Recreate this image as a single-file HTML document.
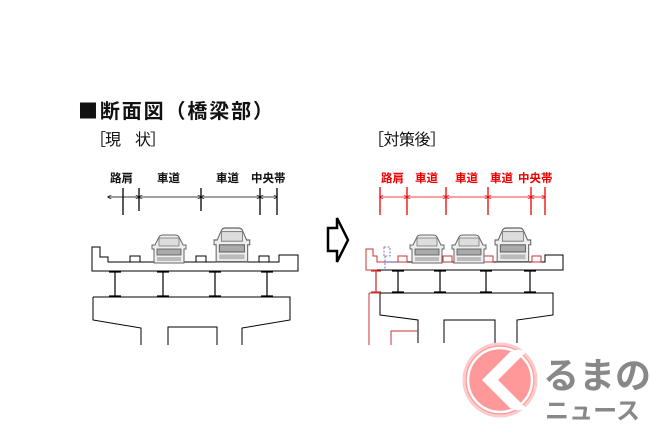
<!DOCTYPE html>
<html><head><meta charset="utf-8"><style>
html,body{margin:0;padding:0;background:#fff;width:650px;height:433px;overflow:hidden}
svg{display:block}
text{font-family:"Liberation Sans","Noto Sans CJK JP",sans-serif}
.cjk{font-family:"Noto Sans CJK JP",sans-serif}
</style></head><body>
<svg width="650" height="433" viewBox="0 0 650 433" xmlns="http://www.w3.org/2000/svg">
<defs>
<g id="car">
<path d="M4 10 L8 2 Q9 0 12 0 L24 0 Q27 0 28 2 L32 10 L35 10 L35 14 L33 14 L33 28 L3 28 L3 14 L1 14 L1 10 Z" fill="#eee" stroke="#666" stroke-width="1"/>
<rect x="8" y="3" width="20" height="8" fill="#ddd" stroke="#777" stroke-width="0.8"/>
<rect x="6" y="14" width="24" height="6" fill="#aaa" stroke="#555" stroke-width="0.8"/>
<rect x="6" y="22" width="24" height="4" fill="#bbb"/>
</g>
<marker id="ak" viewBox="0 0 6 6" refX="5" refY="3" markerWidth="5" markerHeight="5" orient="auto-start-reverse"><path d="M0 0L6 3L0 6" fill="none" stroke="#000"/></marker>
<marker id="ar" viewBox="0 0 6 6" refX="5" refY="3" markerWidth="5" markerHeight="5" orient="auto-start-reverse"><path d="M0 0L6 3L0 6" fill="none" stroke="#e00"/></marker>
</defs>

<text class="cjk" x="78" y="118" font-size="20" font-weight="bold" fill="#111" textLength="195">■断面図（橋梁部）</text>
<text class="cjk" x="90" y="145" font-size="16" fill="#111" textLength="76">［現　状］</text>
<text class="cjk" x="368" y="145" font-size="16" fill="#111" textLength="78">［対策後］</text>

<!-- left dims -->
<g font-size="11.5" font-weight="bold" fill="#111">
<text x="110" y="182">路肩</text><text x="157" y="182">車道</text><text x="216" y="182">車道</text><text x="251" y="182">中央帯</text>
</g>
<g stroke="#000" stroke-width="1.3">
<line x1="123" y1="188" x2="123" y2="215"/><line x1="139" y1="188" x2="139" y2="211"/><line x1="201" y1="188" x2="201" y2="211"/><line x1="260" y1="188" x2="260" y2="215"/><line x1="277" y1="188" x2="277" y2="215"/>
</g>
<g stroke="#000" stroke-width="0.8" fill="none">
<line x1="108" y1="197" x2="123" y2="197" marker-start="url(#ak)"/>
<line x1="123" y1="197" x2="139" y2="197" marker-end="url(#ak)"/>
<line x1="139" y1="197" x2="201" y2="197" marker-start="url(#ak)" marker-end="url(#ak)"/>
<line x1="201" y1="197" x2="260" y2="197" marker-start="url(#ak)" marker-end="url(#ak)"/>
<line x1="260" y1="197" x2="277" y2="197" marker-start="url(#ak)" marker-end="url(#ak)"/>
</g>

<!-- left bridge -->
<g stroke="#000" stroke-width="1" fill="none">
<path d="M92 247 L100 247 L100 257 L108 257 L108 262 L279 262 L279 255 L298 255 L298 271 L92 271 Z"/>
<rect x="130" y="256" width="10" height="6"/><rect x="196" y="256" width="10" height="6"/><rect x="259" y="256" width="10" height="6"/>
<path d="M93 297 L290 297 L290 320 L242 328 L242 345 M93 297 L93 320 L141 328 L141 345 M168 345 L168 327 L217 327 L217 345"/>
</g>
<g stroke="#000" stroke-width="1.2">
<path d="M109 272h12M115 272v24M109 296h12 M157 272h12M163 272v24M157 296h12 M209 272h12M215 272v24M209 296h12 M261 272h12M267 272v24M261 296h12"/>
</g>
<use href="#car" x="151" y="235"/>
<use href="#car" transform="translate(213 228) scale(1.05 1.2)"/>

<!-- arrow -->
<path d="M328 228 L337 228 L337 218 L348 240 L337 262 L337 251 L328 251 Z" fill="#fff" stroke="#000" stroke-width="2.5"/>

<!-- right dims -->
<g font-size="11.5" font-weight="bold" fill="#e00">
<text x="381" y="182">路肩</text><text x="415" y="182">車道</text><text x="455" y="182">車道</text><text x="490" y="182">車道</text><text x="518" y="182">中央帯</text>
</g>
<g stroke="#e00" stroke-width="1.3">
<line x1="380" y1="187" x2="380" y2="215"/><line x1="407" y1="187" x2="407" y2="215"/><line x1="446" y1="187" x2="446" y2="215"/><line x1="488" y1="187" x2="488" y2="215"/><line x1="531" y1="187" x2="531" y2="215"/><line x1="545" y1="187" x2="545" y2="215"/>
</g>
<g stroke="#e00" stroke-width="0.8" fill="none">
<line x1="380" y1="197" x2="407" y2="197" marker-start="url(#ar)" marker-end="url(#ar)"/>
<line x1="407" y1="197" x2="446" y2="197" marker-start="url(#ar)" marker-end="url(#ar)"/>
<line x1="446" y1="197" x2="488" y2="197" marker-start="url(#ar)" marker-end="url(#ar)"/>
<line x1="488" y1="197" x2="531" y2="197" marker-start="url(#ar)" marker-end="url(#ar)"/>
<line x1="531" y1="197" x2="545" y2="197" marker-start="url(#ar)" marker-end="url(#ar)"/>
</g>

<!-- right bridge -->
<g stroke="#000" stroke-width="1" fill="none">
<path d="M377 262 L545 262 L545 255 L563 255 L563 270 L377 270"/>
<path d="M380 293 L553 293 L553 315 L517 320 L517 343 M380 293 L380 315 L418 320 L418 343 M444 343 L444 320 L495 320 L495 343"/>
</g>
<g stroke="#c33" stroke-width="1" fill="none">
<path d="M377 270 L366 270 L366 249 L373 249 L373 256 L377 256 L377 262 L392 262"/>
<rect x="398" y="256" width="9" height="6"/><rect x="443" y="256" width="9" height="6"/><rect x="484" y="256" width="9" height="6"/><rect x="532" y="256" width="9" height="6"/>
<path d="M369 293 L369 345 M369 293 L380 293 M391 345 L391 331 L418 331"/>
<path d="M371 271h10M376 271v22M371 292h10" stroke-width="1.3"/>
</g>
<path d="M384 247 L390 247 L390 256 L384 256 Z M385 256 L385 270" stroke="#55a" stroke-width="0.8" stroke-dasharray="2 1.5" fill="none"/>
<path d="M385 262 L398 262" stroke="#55a" stroke-width="1" fill="none"/>
<g stroke="#000" stroke-width="1.2">
<path d="M392 271h12M398 271v22M392 292h12 M434 271h12M440 271v22M434 292h12 M480 271h12M486 271v22M480 292h12 M524 271h12M530 271v22M524 292h12"/>
</g>
<use href="#car" x="409" y="235"/>
<use href="#car" x="451" y="235"/>
<use href="#car" transform="translate(494 228) scale(1.05 1.2)"/>

<!-- logo -->
<circle cx="500" cy="380" r="36" fill="#f99" stroke="#fcc" stroke-width="3"/>
<circle cx="500" cy="380" r="32" fill="none" stroke="#fff" stroke-width="2.5"/>
<path d="M512 350 L482 380 L512 410 L528 410 L498 380 L528 350 Z" fill="#fff"/>
<text x="543" y="388" font-size="36" font-weight="bold" fill="#888" font-family="'Noto Sans CJK JP',sans-serif">るまの</text>
<text x="545" y="419" font-size="24" font-weight="bold" fill="#888" font-family="'Noto Sans CJK JP',sans-serif" textLength="95">ニュース</text>
</svg>
</body></html>
